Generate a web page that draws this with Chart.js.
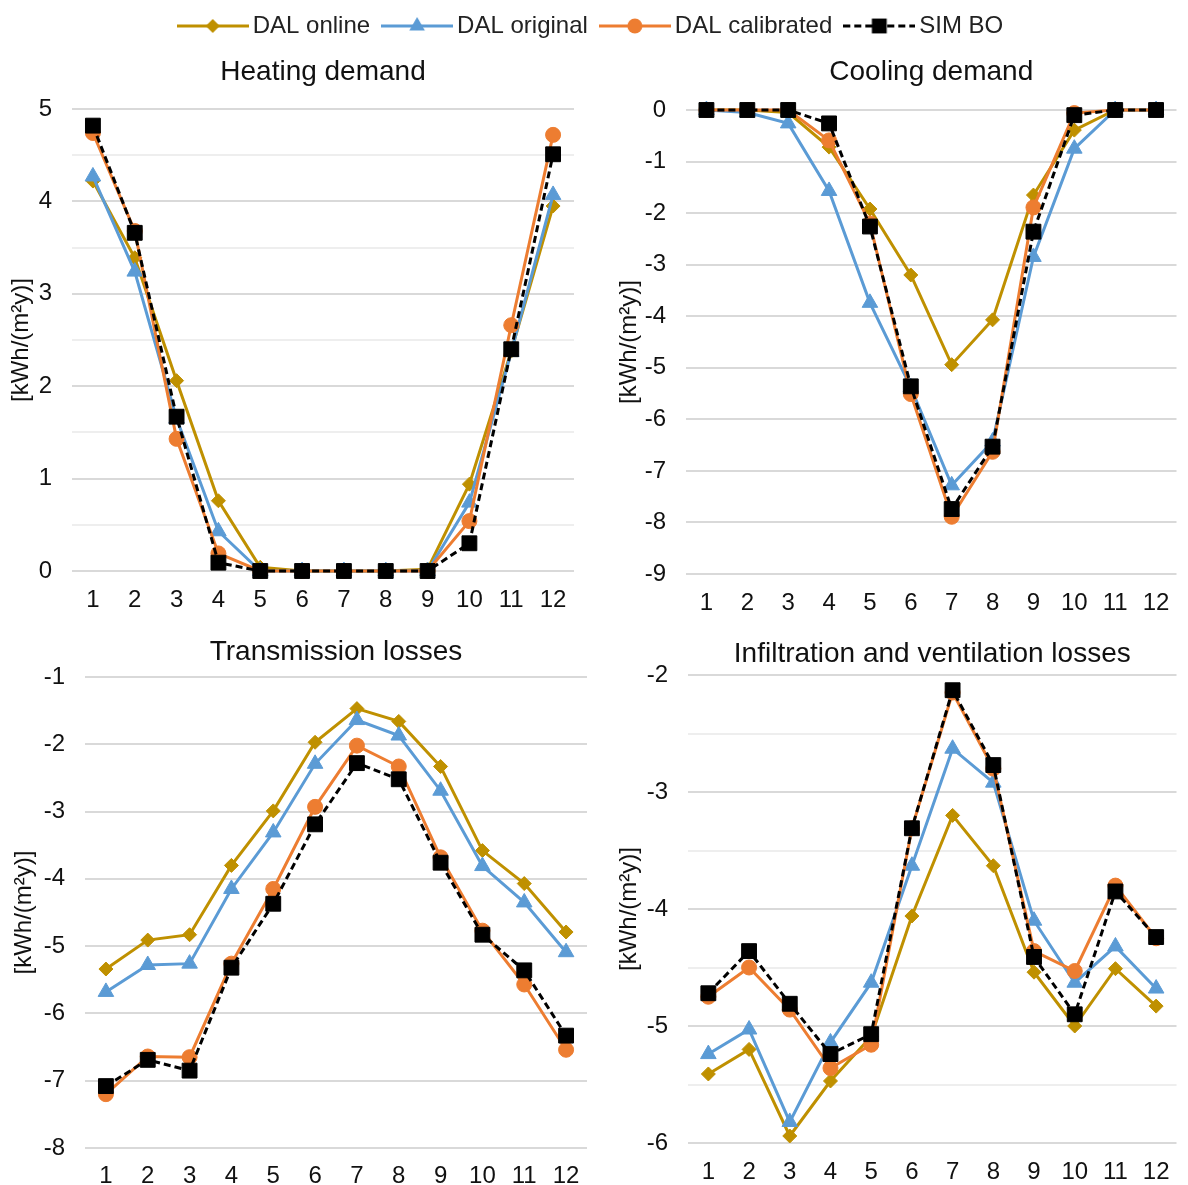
<!DOCTYPE html>
<html>
<head>
<meta charset="utf-8">
<script src="https://cdn.jsdelivr.net/npm/chart.js@4/dist/chart.umd.min.js"></script>
<style>
  html, body { margin: 0; padding: 0; background: #fff; }
  body { width: 1188px; height: 1185px; position: relative; overflow: hidden; }
  canvas { position: absolute; }
</style>
</head>
<body>
<canvas id="legend"></canvas>
<canvas id="heating"></canvas>
<canvas id="cooling"></canvas>
<canvas id="transmission"></canvas>
<canvas id="infiltration"></canvas>
<script>
// Months on the x axis
const months = ['1', '2', '3', '4', '5', '6', '7', '8', '9', '10', '11', '12'];
const seriesNames = ['DAL online', 'DAL original', 'DAL calibrated', 'SIM BO'];
const unitLabel = '[kWh/(m\u00B2y)]';

// Heating demand [kWh/(m2y)]
const heatingOnline     = [4.22, 3.39, 2.06, 0.76, 0.04, 0, 0, 0, 0.02, 0.94, 2.38, 3.95];
const heatingOriginal   = [4.27, 3.24, 1.65, 0.43, 0, 0, 0, 0, 0, 0.74, 2.37, 4.07];
const heatingCalibrated = [4.74, 3.68, 1.43, 0.19, 0, 0, 0, 0, 0, 0.54, 2.66, 4.72];
const heatingSim        = [4.82, 3.66, 1.67, 0.09, 0, 0, 0, 0, 0, 0.30, 2.40, 4.51];

// Cooling demand [kWh/(m2y)]
const coolingOnline     = [0, 0, -0.05, -0.72, -1.92, -3.20, -4.94, -4.07, -1.65, -0.39, 0, 0];
const coolingOriginal   = [0, -0.05, -0.26, -1.57, -3.74, -5.38, -7.28, -6.43, -2.85, -0.75, 0, 0];
const coolingCalibrated = [0, 0, 0, -0.59, -2.20, -5.51, -7.89, -6.63, -1.89, -0.06, 0, 0];
const coolingSim        = [0, 0, 0, -0.26, -2.26, -5.36, -7.74, -6.53, -2.36, -0.10, 0, 0];

// Transmission losses [kWh/(m2y)]
const transOnline     = [-5.34, -4.91, -4.83, -3.80, -2.99, -1.97, -1.47, -1.66, -2.33, -3.58, -4.07, -4.79];
const transOriginal   = [-5.68, -5.28, -5.26, -4.15, -3.31, -2.29, -1.64, -1.87, -2.69, -3.81, -4.35, -5.09];
const transCalibrated = [-7.20, -6.64, -6.65, -5.26, -4.15, -2.93, -2.02, -2.33, -3.68, -4.77, -5.57, -6.54];
const transSim        = [-7.08, -6.69, -6.85, -5.32, -4.37, -3.19, -2.28, -2.52, -3.76, -4.83, -5.36, -6.33];

// Infiltration and ventilation losses [kWh/(m2y)]
const infilOnline     = [-5.41, -5.20, -5.94, -5.47, -5.09, -4.06, -3.20, -3.63, -4.54, -5.00, -4.51, -4.83];
const infilOriginal   = [-5.24, -5.03, -5.82, -5.14, -4.63, -3.63, -2.63, -2.92, -4.10, -4.63, -4.32, -4.68];
const infilCalibrated = [-4.75, -4.50, -4.86, -5.36, -5.16, -3.31, -2.15, -2.80, -4.36, -4.53, -3.80, -4.25];
const infilSim        = [-4.72, -4.36, -4.81, -5.24, -5.07, -3.31, -2.13, -2.77, -4.41, -4.90, -3.85, -4.24];

const FONT = "'Liberation Sans', Arial, Helvetica, sans-serif";
const TEXT = '#111111';

// Line/marker look of each series (index matches seriesNames)
const looks = [
  { color: '#BF9000', point: 'rectRot',  radius: 7,    dash: [],     order: 4 },
  { color: '#5B9BD5', point: 'triangle', radius: 9,    dash: [],     order: 3 },
  { color: '#ED7D31', point: 'circle',   radius: 7.5,  dash: [],     order: 2 },
  { color: '#000000', point: 'rect',     radius: 10.5, dash: [7, 4], order: 1 }
];

function place(cv, b) {
  cv.width = b.w; cv.height = b.h;
  cv.style.left = b.x + 'px'; cv.style.top = b.y + 'px';
  cv.style.width = b.w + 'px'; cv.style.height = b.h + 'px';
}

function isWhole(v) { return Math.abs(v - Math.round(v)) < 1e-6; }

function panel(id, box, plot, title, titleY, yTitleX, yScale, values) {
  const cv = document.getElementById(id);
  place(cv, box);
  const titleSize = 28, titleLH = titleSize * 1.2;
  const tPadTop = titleY - box.y - titleLH / 2;
  const tPadBottom = plot.top - box.y - tPadTop - titleLH;
  const axisTitleSize = 24;
  const yTitlePad = yTitleX - box.x - axisTitleSize * 1.2 / 2;

  const datasets = values.map((vals, i) => ({
    label: seriesNames[i],
    data: vals,
    borderColor: looks[i].color,
    backgroundColor: looks[i].color,
    borderWidth: 3,
    borderDash: looks[i].dash,
    pointStyle: looks[i].point,
    pointRadius: looks[i].radius,
    pointBackgroundColor: looks[i].color,
    pointBorderColor: looks[i].color,
    pointBorderWidth: 1,
    tension: 0,
    fill: false,
    clip: false,
    order: looks[i].order
  }));

  return new Chart(cv, {
    type: 'line',
    data: { labels: months, datasets },
    options: {
      responsive: false,
      animation: false,
      devicePixelRatio: 1,
      events: [],
      layout: { padding: { top: 0, left: 0, bottom: 0, right: box.x + box.w - plot.right } },
      plugins: {
        legend: { display: false },
        tooltip: { enabled: false },
        title: {
          display: true,
          text: title,
          fullSize: false,
          color: TEXT,
          font: { family: FONT, size: titleSize, weight: 'normal', lineHeight: 1.2 },
          padding: { top: tPadTop, bottom: tPadBottom }
        }
      },
      scales: {
        x: {
          type: 'category',
          offset: true,
          grid: { display: false, drawTicks: false },
          border: { display: false },
          ticks: {
            color: TEXT,
            padding: plot.xPad,
            autoSkip: false,
            maxRotation: 0,
            font: { family: FONT, size: 24, lineHeight: 1.2 }
          },
          afterFit: s => { s.height = box.y + box.h - plot.bottom; }
        },
        y: {
          type: 'linear',
          min: yScale.min,
          max: yScale.max,
          grid: {
            drawTicks: false,
            lineWidth: 2,
            color: c => isWhole(c.tick.value) ? '#D9D9D9' : '#EEEEEE'
          },
          border: { display: false },
          ticks: {
            stepSize: yScale.step,
            autoSkip: false,
            padding: 20,
            color: TEXT,
            font: { family: FONT, size: 24, lineHeight: 1.2 },
            callback: v => isWhole(v) ? String(Math.round(v)) : ''
          },
          title: {
            display: true,
            text: unitLabel,
            color: TEXT,
            font: { family: FONT, size: axisTitleSize, lineHeight: 1.2 },
            padding: { top: yTitlePad, bottom: 0 }
          },
          afterFit: s => { s.width = plot.left - box.x; }
        }
      }
    }
  });
}

// Legend swatch: a short line with the series marker in its middle
function swatch(look) {
  const c = document.createElement('canvas');
  c.width = 72; c.height = 24;
  const g = c.getContext('2d');
  const cx = 36, cy = 12;
  g.strokeStyle = look.color; g.fillStyle = look.color; g.lineWidth = 3;
  g.setLineDash(look.dash);
  g.beginPath(); g.moveTo(0, cy); g.lineTo(72, cy); g.stroke();
  g.setLineDash([]);
  g.beginPath();
  const r = look.radius;
  if (look.point === 'rectRot') {
    g.moveTo(cx, cy - r); g.lineTo(cx + r, cy); g.lineTo(cx, cy + r); g.lineTo(cx - r, cy); g.closePath();
  } else if (look.point === 'triangle') {
    g.moveTo(cx, cy - r);
    g.lineTo(cx + Math.sin(2 * Math.PI / 3) * r, cy + r / 2);
    g.lineTo(cx - Math.sin(2 * Math.PI / 3) * r, cy + r / 2);
    g.closePath();
  } else if (look.point === 'circle') {
    g.arc(cx, cy, r, 0, Math.PI * 2);
  } else {
    const h = r * Math.SQRT1_2;
    g.rect(cx - h, cy - h, 2 * h, 2 * h);
  }
  g.fill();
  return c;
}

// Shared legend across the top
(function legend() {
  const cv = document.getElementById('legend');
  place(cv, { x: 0, y: -5, w: 1188, h: 140 });
  const marks = looks.map(swatch);
  new Chart(cv, {
    type: 'line',
    data: { labels: [], datasets: seriesNames.map((n, i) => ({ label: n, data: [], borderColor: looks[i].color })) },
    options: {
      responsive: false, animation: false, devicePixelRatio: 1, events: [],
      scales: { x: { display: false }, y: { display: false } },
      plugins: {
        tooltip: { enabled: false },
        legend: {
          display: true,
          position: 'top',
          labels: {
            usePointStyle: true,
            pointStyleWidth: 56,
            padding: 19,
            color: '#222',
            font: { family: FONT, size: 24 },
            generateLabels: () => seriesNames.map((n, i) => ({
              text: n, pointStyle: marks[i], fillStyle: looks[i].color,
              strokeStyle: looks[i].color, lineWidth: 0, hidden: false,
              datasetIndex: i, fontColor: '#222'
            }))
          }
        }
      }
    }
  });
})();

panel('heating',
  { x: 0, y: 40, w: 594, h: 590 },
  { left: 72, right: 574, top: 109, bottom: 571, xPad: 15 },
  'Heating demand', 72, 21,
  { min: 0, max: 5, step: 0.5 },
  [heatingOnline, heatingOriginal, heatingCalibrated, heatingSim]);

panel('cooling',
  { x: 600, y: 40, w: 588, h: 590 },
  { left: 686, right: 1178, top: 110, bottom: 574, xPad: 15 },
  'Cooling demand', 72, 629,
  { min: -9, max: 0, step: 1 },
  [coolingOnline, coolingOriginal, coolingCalibrated, coolingSim]);

panel('transmission',
  { x: 0, y: 625, w: 600, h: 560 },
  { left: 85, right: 587, top: 677, bottom: 1148, xPad: 14 },
  'Transmission losses', 652, 24,
  { min: -8, max: -1, step: 1 },
  [transOnline, transOriginal, transCalibrated, transSim]);

panel('infiltration',
  { x: 600, y: 625, w: 588, h: 560 },
  { left: 688, right: 1188, top: 675, bottom: 1143, xPad: 15 },
  'Infiltration and ventilation losses', 654, 629,
  { min: -6, max: -2, step: 0.5 },
  [infilOnline, infilOriginal, infilCalibrated, infilSim]);
</script>
</body>
</html>
